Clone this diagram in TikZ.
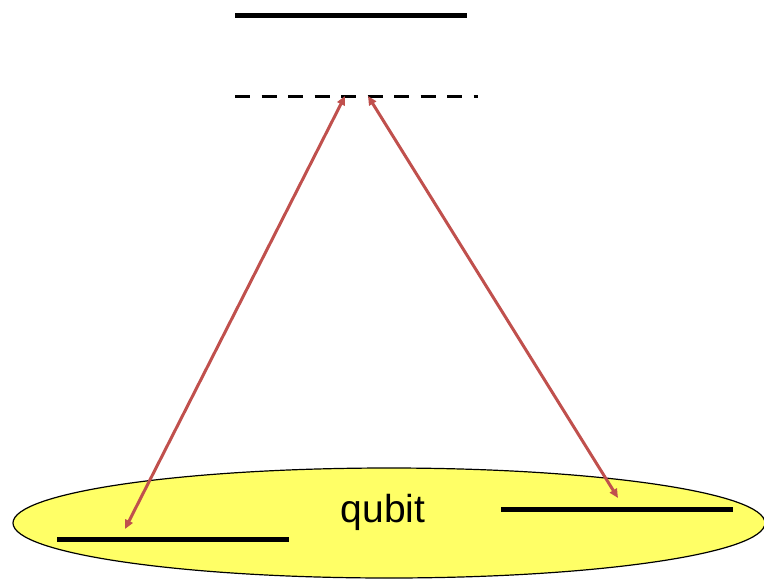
\documentclass[tikz,border=0pt]{standalone}
\usepackage{fontspec}
\setmainfont{Liberation Sans}
\usetikzlibrary{arrows.meta}
\definecolor{arrowred}{HTML}{C0504D}
\definecolor{qubitfill}{HTML}{FFFF66}
\begin{document}
\begin{tikzpicture}[x=1pt,y=-1pt,
  level/.style={line width=5pt},
  virtual/.style={line width=3pt,dash pattern=on 15pt off 11.5pt},
  transition/.style={draw=arrowred,line width=3pt,{Triangle[length=9pt,width=8pt]}-{Triangle[length=9pt,width=8pt]}}]
\useasboundingbox (0,0) rectangle (764,579);
\draw[fill=qubitfill,line width=1.2pt] (389,523) ellipse [x radius=376, y radius=55];
\node[font=\fontsize{39}{44}\selectfont,inner sep=0pt] (q) at (383,512) {qubit};
\coordinate (e1) at (235,15);
\coordinate (e2) at (467,15);
\draw[level] (e1) -- (e2);
\coordinate (v1) at (235,96);
\coordinate (v2) at (478,96);
\draw[virtual] (v1) -- (v2);
\coordinate (g1a) at (57,539);
\coordinate (g1b) at (289,539);
\draw[level] (g1a) -- (g1b);
\coordinate (g2a) at (501,509);
\coordinate (g2b) at (733,509);
\draw[level] (g2a) -- (g2b);
\coordinate (la) at (345,96);
\coordinate (lb) at (125,529);
\coordinate (ra) at (368,96);
\coordinate (rb) at (618,498);
\draw[transition] (la) -- (lb);
\draw[transition] (ra) -- (rb);
\end{tikzpicture}
\end{document}
